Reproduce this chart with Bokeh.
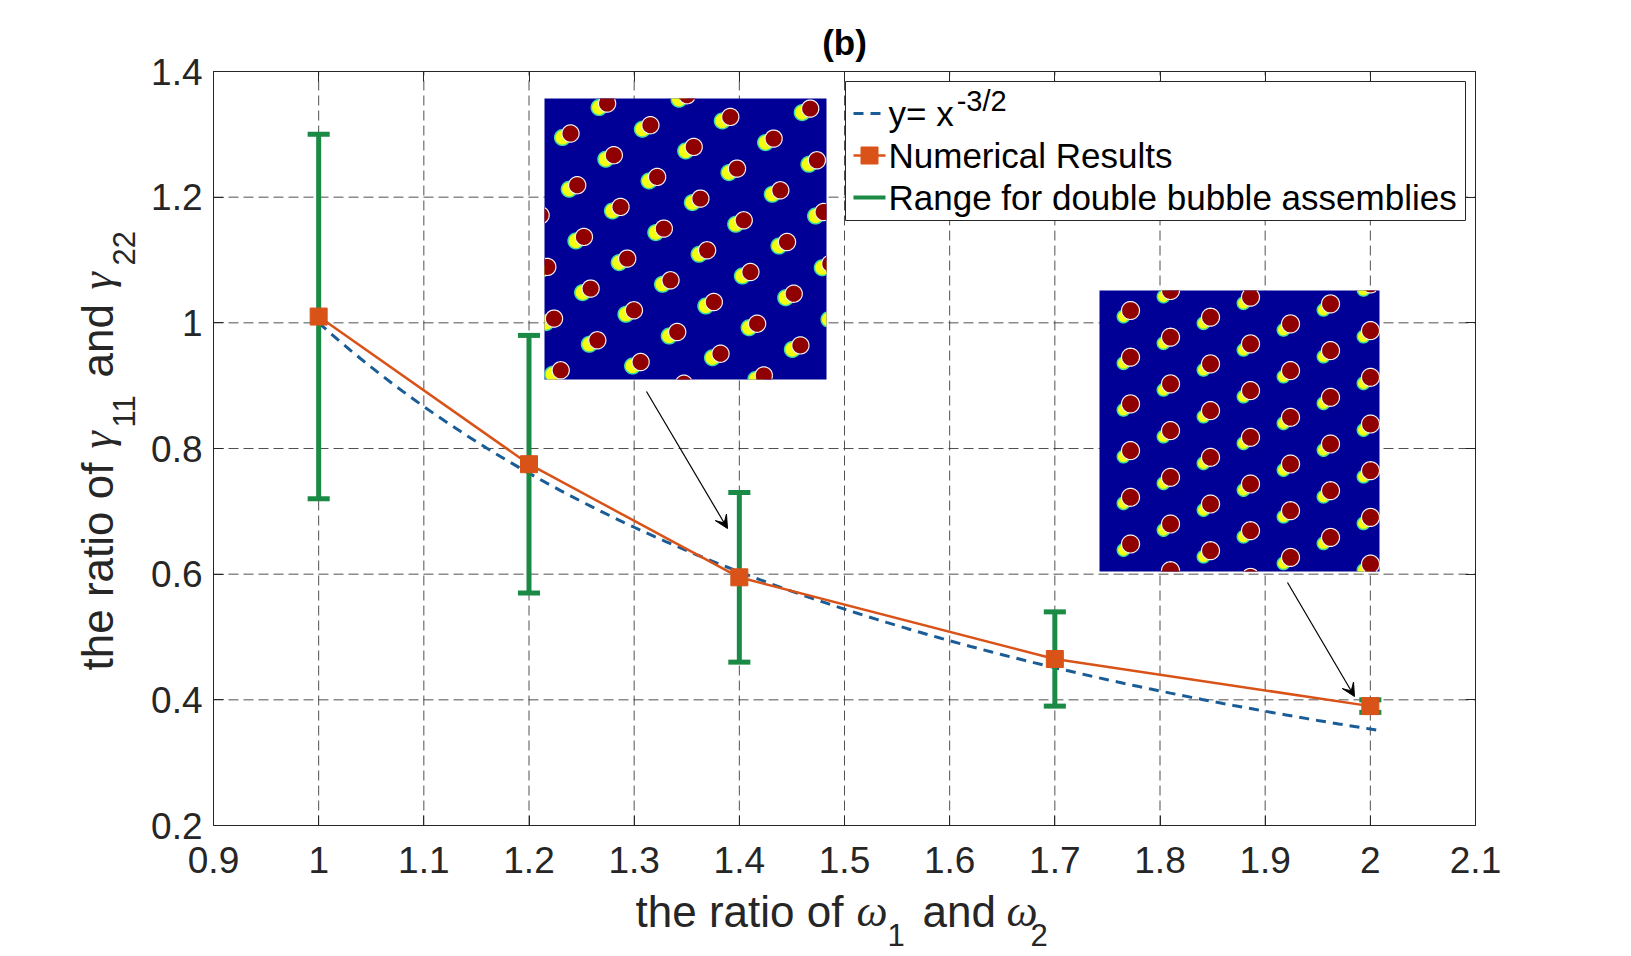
import numpy as np
from bokeh.plotting import figure
from bokeh.models import (Range1d, FixedTicker, LinearAxis, Label, Arrow, VeeHead,
                          CustomJSTickFormatter)
from bokeh.embed import file_html
from bokeh.resources import INLINE

# ---------------- data ----------------
ratio_w = [1.0, 1.2, 1.4, 1.7, 2.0]                 # ratio of omega_1 and omega_2
ratio_gamma = [1.01, 0.775, 0.595, 0.465, 0.39]     # numerical results
range_low = [0.72, 0.57, 0.46, 0.39, 0.38]          # range for double bubble assemblies
range_high = [1.30, 0.98, 0.73, 0.54, 0.40]
curve_x = [round(1.0 + 0.01 * i, 2) for i in range(102)]   # sample points of y = x^(-3/2)
curve_y = [x ** -1.5 for x in curve_x]                     # the legend's formula

x_ticks = [0.9, 1.0, 1.1, 1.2, 1.3, 1.4, 1.5, 1.6, 1.7, 1.8, 1.9, 2.0, 2.1]
x_tick_labels = ["0.9", "1", "1.1", "1.2", "1.3", "1.4", "1.5", "1.6", "1.7", "1.8", "1.9", "2", "2.1"]
y_ticks = [0.2, 0.4, 0.6, 0.8, 1.0, 1.2, 1.4]
y_tick_labels = ["0.2", "0.4", "0.6", "0.8", "1", "1.2", "1.4"]

legend_labels = ["y= x", "Numerical Results", "Range for double bubble assemblies"]
legend_sup = "-3/2"
title_text = "(b)"

# ---------------- layout helpers (canvas pixel -> data) ----------------
W, H = 1625, 955
FL, FR, FT, FB = 213, 1475, 71, 825          # axes box in canvas pixels
XMIN, XMAX, YMIN, YMAX = 0.9, 2.1, 0.2, 1.4


def dx(px):
    return XMIN + (px - FL) / (FR - FL) * (XMAX - XMIN)


def dy(py):
    return YMIN + (FB - py) / (FB - FT) * (YMAX - YMIN)


INK = "#262626"
SANS = "Liberation Sans"
SERIF = "Liberation Serif"
BLUE = "#1a5c96"
ORANGE = "#D95319"
GREEN = "#1B8A45"

p = figure(title=None, frame_width=W, frame_height=H,
           x_range=Range1d(dx(0), dx(W)), y_range=Range1d(dy(H), dy(0)),
           output_backend="svg", toolbar_location=None,
           min_border=0, min_border_left=0, min_border_right=0,
           min_border_top=0, min_border_bottom=0,
           background_fill_color="white", border_fill_color="white",
           outline_line_color=None)

# axes drawn at the box edges through Bokeh's own axes
p.xaxis.ticker = FixedTicker(ticks=x_ticks)
p.yaxis.ticker = FixedTicker(ticks=y_ticks)
p.xaxis.major_label_overrides = dict(zip(x_ticks, x_tick_labels))
p.yaxis.major_label_overrides = dict(zip(y_ticks, y_tick_labels))
p.xaxis[0].fixed_location = YMIN
p.yaxis[0].fixed_location = XMIN
p.xaxis[0].bounds = (XMIN, XMAX)
p.yaxis[0].bounds = (YMIN, YMAX)
for ax in (p.xaxis[0], p.yaxis[0]):
    ax.axis_label = None
    ax.major_tick_in = 10
    ax.major_tick_out = 0
    ax.minor_tick_line_color = None
    ax.axis_line_color = INK
    ax.major_tick_line_color = INK
    ax.major_label_text_font = SANS
    ax.major_label_text_font_size = "37px"
    ax.major_label_text_color = INK
p.xaxis[0].major_label_standoff = 21
p.yaxis[0].major_label_standoff = 11

for loc, tk, fl, bd in (("above", x_ticks, YMAX, (XMIN, XMAX)), ("right", y_ticks, XMAX, (YMIN, YMAX))):
    ax = LinearAxis(ticker=FixedTicker(ticks=tk), fixed_location=fl, bounds=bd,
                    formatter=CustomJSTickFormatter(code="return ''"),
                    major_tick_in=10, major_tick_out=0,
                    minor_tick_line_color=None, axis_line_color=INK,
                    major_tick_line_color=INK, major_label_text_font_size="1px")
    p.add_layout(ax, loc)

# dashed grid limited to the axes box
grid_kw = dict(line_color="#333333", line_alpha=0.85, line_width=1, line_dash="10 5")
p.xgrid.visible = False
p.ygrid.visible = False
p.segment(x0=x_ticks[1:-1], y0=[YMIN] * (len(x_ticks) - 2), x1=x_ticks[1:-1],
          y1=[YMAX] * (len(x_ticks) - 2), level="underlay", **grid_kw)
p.segment(x0=[XMIN] * (len(y_ticks) - 2), y0=y_ticks[1:-1], x1=[XMAX] * (len(y_ticks) - 2),
          y1=y_ticks[1:-1], level="underlay", **grid_kw)

# ---------------- insets (pictures of the bubble patterns) ----------------
insets = [
    dict(l=544, t=98, r=826, b=379, o=(26, 35), a=(43.3, 21.7), bv=(6.7, 51.7),
         red=8.6, yel=7.8, off=(-8, 4)),
    dict(l=1099, t=290, r=1379, b=571, o=(31, 20), a=(40.0, 26.7), bv=(0.0, 46.7),
         red=9.0, yel=6.2, off=(-7, 6)),
]
TH = np.linspace(0, 2 * np.pi, 48, endpoint=False)


def disc(ins, cx, cy, r):
    """circle polygon (clipped to the inset) and its visible outline, in data units"""
    IW, IH = ins["r"] - ins["l"], ins["b"] - ins["t"]
    xs = cx + r * np.cos(TH)
    ys = cy + r * np.sin(TH)
    fx, fy = np.clip(xs, 0, IW), np.clip(ys, 0, IH)
    inside = (xs >= 0) & (xs <= IW) & (ys >= 0) & (ys <= IH)
    ox = np.append(np.where(inside, xs, np.nan), xs[0] if inside[0] else np.nan)
    oy = np.append(np.where(inside, ys, np.nan), ys[0] if inside[0] else np.nan)
    poly = ([dx(ins["l"] + u) for u in fx], [dy(ins["t"] + v) for v in fy])
    line = ([dx(ins["l"] + u) for u in ox], [dy(ins["t"] + v) for v in oy])
    return poly, line


for ins in insets:
    IW, IH = ins["r"] - ins["l"], ins["b"] - ins["t"]
    p.quad(left=dx(ins["l"]), right=dx(ins["r"]), top=dy(ins["t"]), bottom=dy(ins["b"]),
           fill_color="#000096", line_color=None)
    red_p, red_l, yel_p, yel_l = ([], []), ([], []), ([], []), ([], [])
    for n in range(-12, 13):
        for m in range(-12, 13):
            u = ins["o"][0] + n * ins["a"][0] + m * ins["bv"][0]
            v = ins["o"][1] + n * ins["a"][1] + m * ins["bv"][1]
            uy, vy = u + ins["off"][0], v + ins["off"][1]
            for (cx, cy, r, P, L) in ((u, v, ins["red"], red_p, red_l),
                                      (uy, vy, ins["yel"], yel_p, yel_l)):
                if -r + 1 < cx < IW + r - 1 and -r + 1 < cy < IH + r - 1:
                    poly, line = disc(ins, cx, cy, r)
                    P[0].append(poly[0]); P[1].append(poly[1])
                    L[0].append(line[0]); L[1].append(line[1])
    p.patches(yel_p[0], yel_p[1], fill_color="#F4FF10", line_color=None)
    p.multi_line(yel_l[0], yel_l[1], line_color="#3fd9a8", line_width=1.5)
    p.patches(red_p[0], red_p[1], fill_color="#900000", line_color=None)
    p.multi_line(red_l[0], red_l[1], line_color="#f2f2f2", line_width=1.2)

# ---------------- data series ----------------
p.line(curve_x, curve_y, line_color=BLUE, line_width=3, line_dash="10 7")
cap = 0.0105
p.segment(x0=ratio_w, y0=range_low, x1=ratio_w, y1=range_high,
          line_color=GREEN, line_width=5)
p.segment(x0=[x - cap for x in ratio_w], y0=range_low, x1=[x + cap for x in ratio_w],
          y1=range_low, line_color=GREEN, line_width=5)
p.segment(x0=[x - cap for x in ratio_w], y0=range_high, x1=[x + cap for x in ratio_w],
          y1=range_high, line_color=GREEN, line_width=5)
p.line(ratio_w, ratio_gamma, line_color=ORANGE, line_width=2.5)
p.scatter(ratio_w, ratio_gamma, marker="square", size=17,
          fill_color=ORANGE, line_color=ORANGE)

# ---------------- arrows ----------------
for (x0, y0, x1, y1) in ((646, 391, 727, 528), (1287, 582, 1354, 696)):
    p.add_layout(Arrow(end=VeeHead(size=13, fill_color="black", line_color="black", line_width=1),
                       x_start=dx(x0), y_start=dy(y0), x_end=dx(x1), y_end=dy(y1),
                       line_color="black", line_width=1.2))

# ---------------- legend (drawn by hand for the superscript) ----------------
p.quad(left=dx(845), right=dx(1465), top=dy(81), bottom=dy(220),
       fill_color="white", line_color=INK, line_width=1)
rows = [126, 168, 210]
tx0, tx1 = 853, 885
p.line([dx(tx0), dx(tx1)], [dy(rows[0] - 13)] * 2, line_color=BLUE, line_width=3, line_dash="10 7")
p.line([dx(tx0), dx(tx1)], [dy(rows[1] - 13)] * 2, line_color=ORANGE, line_width=2.5)
p.scatter([dx((tx0 + tx1) / 2)], [dy(rows[1] - 13)], marker="square", size=17,
          fill_color=ORANGE, line_color=ORANGE)
p.line([dx(tx0), dx(tx1)], [dy(rows[2] - 13)] * 2, line_color=GREEN, line_width=4)

BASE = 0.36   # measured offset of Bokeh's alphabetic baseline, in em


def lab(px, py, text, size, font=SANS, style="normal", angle=0.0, color=INK, align="left"):
    if angle == 0.0:
        py = py - BASE * size
    else:
        px = px - BASE * size
    p.add_layout(Label(x=dx(px), y=dy(py), text=text, text_font=font,
                       text_font_size=f"{size}px", text_font_style=style,
                       text_color=color, angle=angle, text_align=align,
                       text_baseline="alphabetic"))


LEG = 35
for r, t in zip(rows, legend_labels):
    lab(888, r, t, LEG, color="black")
lab(888 + 1.862 * LEG + 3, rows[0] - 15, legend_sup, 29, color="black")

# ---------------- title and axis labels ----------------
lab(844, 55, title_text, 35, style="bold", color="black", align="center")

# x label: the ratio of omega_1 and omega_2
lab(635, 927, "the ratio of", 44)
lab(856, 927, "\u03c9", 44, font=SERIF, style="italic")
lab(887, 946, "1", 31)
lab(922, 927, "and", 44)
lab(1006, 927, "\u03c9", 44, font=SERIF, style="italic")
lab(1030, 946, "2", 31)

# y label: the ratio of gamma_11 and gamma_22 (rotated)
A = np.pi / 2
lab(113, 670, "the ratio of", 44, angle=A)
lab(113, 448, "\u03b3", 44, font=SERIF, style="italic", angle=A)
lab(135, 427, "11", 31, angle=A)
lab(113, 377, "and", 44, angle=A)
lab(113, 289, "\u03b3", 44, font=SERIF, style="italic", angle=A)
lab(135, 265, "22", 31, angle=A)

open("out.html", "w").write(file_html(p, INLINE))
